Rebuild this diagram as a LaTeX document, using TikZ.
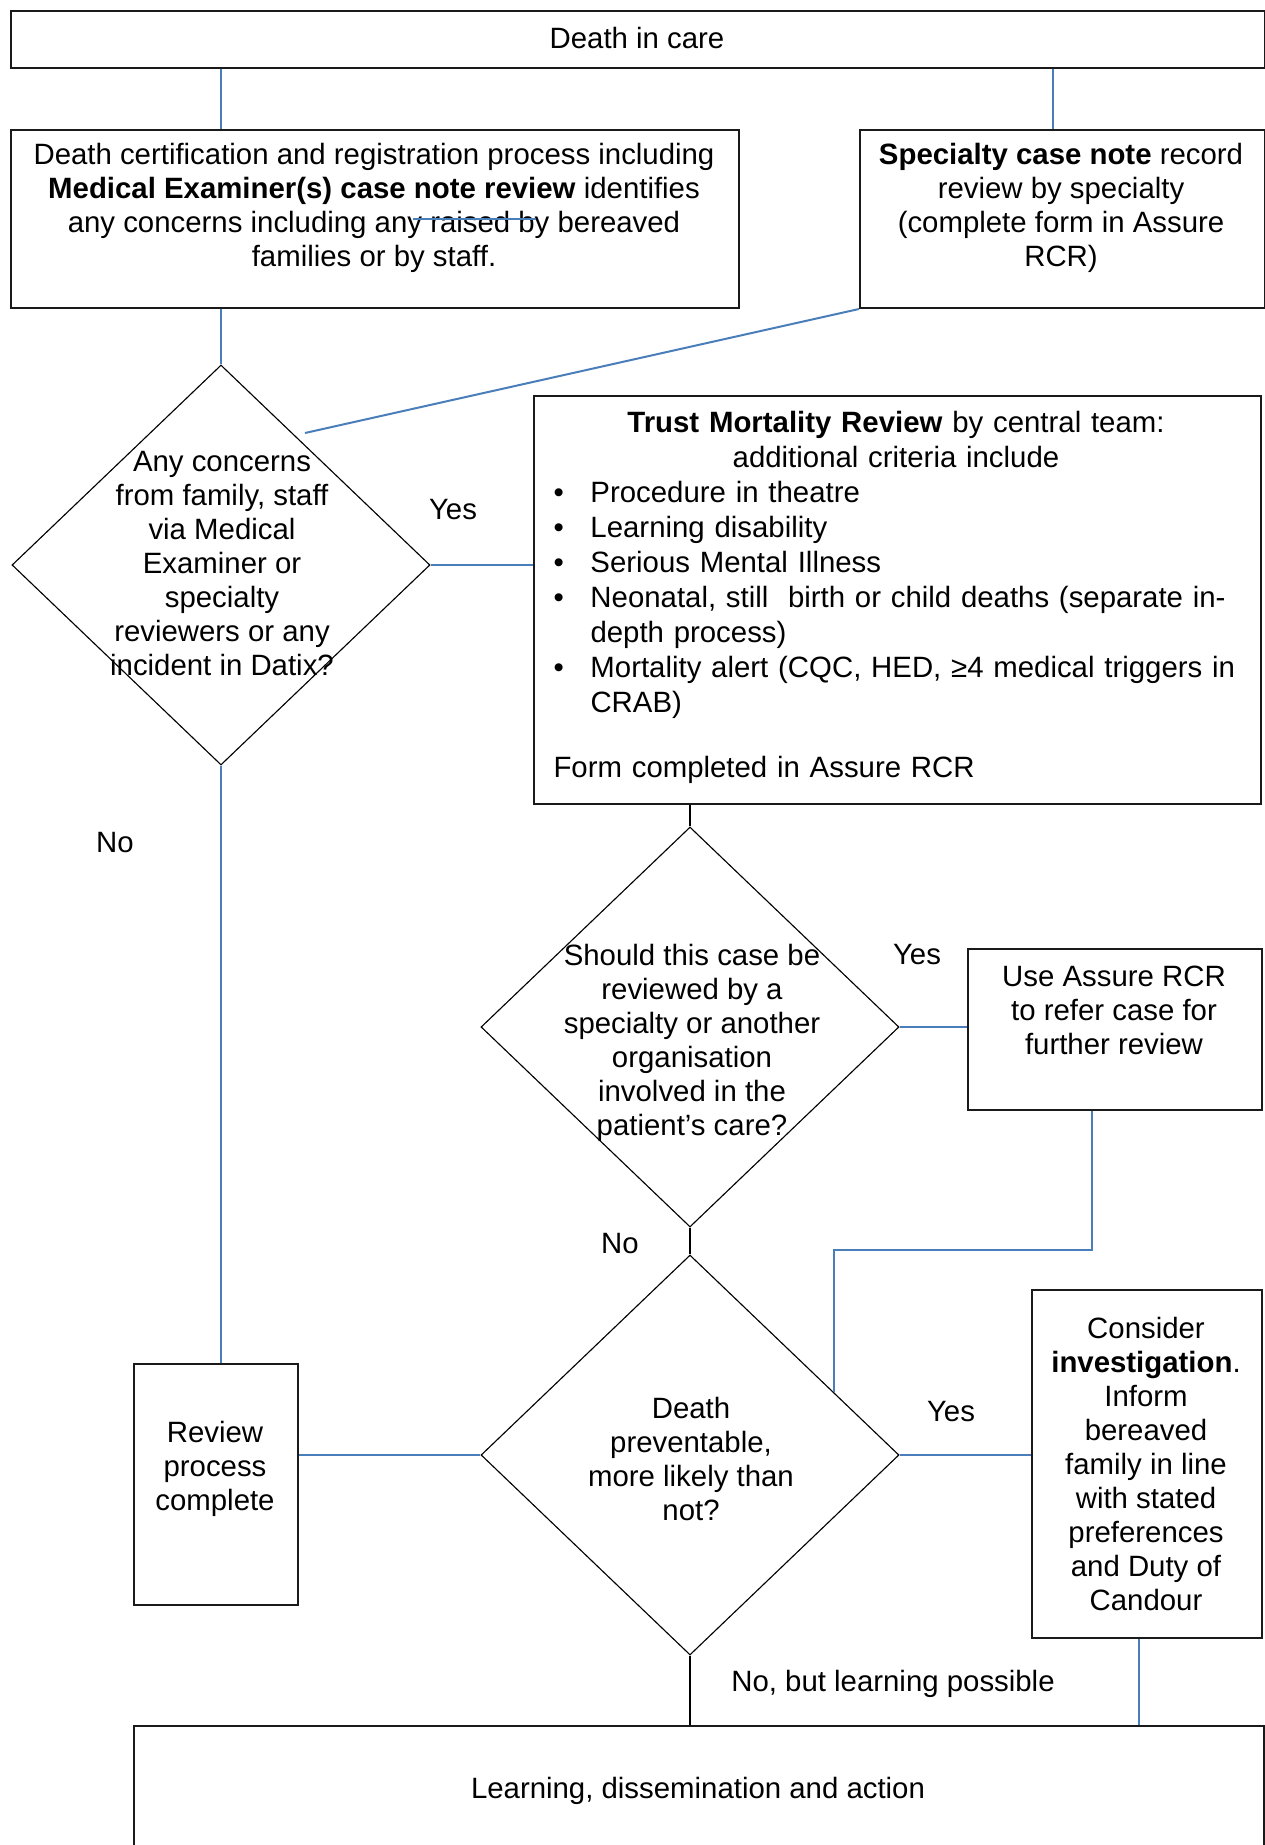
\documentclass[tikz,border=0pt]{standalone}
\usepackage{fontspec}
\setmainfont{Liberation Sans}
\usepackage{xcolor}
\usepackage{tikz}
\usetikzlibrary{positioning, shapes.geometric, calc}
\definecolor{linkBlue}{HTML}{4A7EBB}
\definecolor{boxLine}{HTML}{1A1A1A}

\newcommand{\tmritem}[1]{\par\hangindent=14.8pt\hangafter=1\noindent\makebox[14.8pt][l]{\textbullet}#1}

\begin{document}
\begin{tikzpicture}[
        x=0.4pt, y=-0.4pt,
        every node/.style={font=\fontsize{11.75}{13.6}\selectfont, inner sep=0pt},
        box/.style={rectangle, draw=boxLine, line width=0.8pt, anchor=north west},
        decision/.style={diamond, draw=black, line width=0.45pt,
                         minimum width=167.2pt, minimum height=160pt},
        txt/.style={align=center},
        lbl/.style={anchor=center},
        link/.style={linkBlue, line width=0.8pt},
        plain/.style={black, line width=0.7pt},
      ]
        \useasboundingbox (0,0) rectangle (1265,1845);

        % Top of the chart
        \node[box, minimum width=501.6pt, minimum height=22.8pt] (death) at (10,10) {};
        \node[txt] (deathtxt) at (637,38) {Death in care};

        % Two review routes
        \node[box, minimum width=291.2pt, minimum height=71.2pt] (cert) at (10,129) {};
        \node[txt] (certtxt) at (374,208) {Death certification and registration process including\\
          \textbf{Medical Examiner(s) case note review} identifies\\
          any concerns including any raised by bereaved\\
          families or by staff.};
        \node[box, minimum width=162pt, minimum height=71.2pt] (spec) at (859,129) {};
        \node[txt] (spectxt) at (1061,208) {\textbf{Specialty case note} record\\review by specialty\\(complete form in Assure\\RCR)};

        % First decision and central review
        \node[decision] (d1) at (221,565) {};
        \node[txt] (d1txt) at (222,564) {Any concerns\\from family, staff\\via Medical\\Examiner or\\specialty\\reviewers or any\\incident in Datix?};
        \node[box, minimum width=290.8pt, minimum height=163.2pt] (tmr) at (533,395) {};
        \node[anchor=north, text width=274pt, align=left, font=\fontsize{11.75}{14}\selectfont] (tmrtxt) at (896,411) {%
          \parindent=0pt
          {\centering\textbf{Trust Mortality Review} by central team:\\additional criteria include\par}
          \tmritem{Procedure in theatre}
          \tmritem{Learning disability}
          \tmritem{Serious Mental Illness}
          \tmritem{\mbox{Neonatal, still\ \ birth or child deaths (separate in-}\newline depth process)}
          \tmritem{\mbox{Mortality alert (CQC, HED, ≥4 medical triggers in}\newline CRAB)}
          \par\vspace{0.85\baselineskip}\noindent Form completed in Assure RCR};

        % Second decision
        \node[decision] (d2) at (690,1027) {};
        \node[txt] (d2txt) at (692,1043) {Should this case be\\reviewed by a\\specialty or another\\organisation\\involved in the\\patient’s care?};
        \node[box, minimum width=117.6pt, minimum height=64.4pt] (usebox) at (967,948) {};
        \node[txt] (usetxt) at (1114,1010) {Use Assure RCR\\to refer case for\\further review};

        % Third decision
        \node[decision] (d3) at (690,1455) {};
        \node[txt] (d3txt) at (691,1459) {Death\\preventable,\\more likely than\\not?};
        \node[box, minimum width=65.6pt, minimum height=96.4pt] (review) at (133,1363) {};
        \node[txt] (reviewtxt) at (215,1469) {Review\\process\\complete};
        \node[box, minimum width=92pt, minimum height=139.2pt] (consider) at (1031,1289) {};
        \node[txt] (considertxt) at (1146,1464) {Consider\\\textbf{investigation}.\\Inform\\bereaved\\family in line\\with stated\\preferences\\and Duty of\\Candour};

        % Bottom box runs past the page edge
        \node[box, minimum width=452pt, minimum height=80pt] (learn) at (133,1725) {};
        \node[txt] (learntxt) at (698,1791) {Learning, dissemination and action};

        % Branch labels
        \node[lbl] (yes1) at (453,510) {Yes};
        \node[lbl] (no1) at (115,843) {No};
        \node[lbl] (yes2) at (917,955) {Yes};
        \node[lbl] (no2) at (620,1244) {No};
        \node[lbl] (yes3) at (951,1412) {Yes};
        \node[lbl] (nobut) at (893,1684) {No, but learning possible};

        % Connectors
        \coordinate (specin) at ([xshift=-4pt]spec.north);
        \coordinate (specend) at (305,433);
        \coordinate (useout) at ([xshift=-9.2pt]usebox.south);
        \coordinate (considerout) at ([xshift=-3.2pt]consider.south);
        \coordinate (d3ne) at ($(d3.north)!0.685!(d3.east)$);
        \draw[link] (death.south -| d1.north) -- (cert.north -| d1.north);
        \draw[link] (death.south -| specin) -- (specin);
        \draw[link] (cert.south -| d1.north) -- (d1.north);
        \draw[link] (spec.south west) -- (specend);
        \draw[link] (d1.east) -- (d1.east -| tmr.west);
        \draw[link] (d1.south) -- (d1.south |- review.north);
        \draw[plain] (tmr.south -| d2.north) -- (d2.north);
        \draw[link] (d2.east) -- (d2.east -| usebox.west);
        \draw[link] (useout) -- ++(0,139) -| (d3ne);
        \draw[plain] (d2.south) -- (d3.north);
        \draw[link] (d3.west) -- (d3.west -| review.east);
        \draw[link] (d3.east) -- (d3.east -| consider.west);
        \draw[plain] (d3.south) -- (d3.south |- learn.north);
        \draw[link] (considerout) -- (considerout |- learn.north);

        % stray stroke over the first box text
        \draw[link] (413,219) -- (536,219);
      \end{tikzpicture}
\end{document}
